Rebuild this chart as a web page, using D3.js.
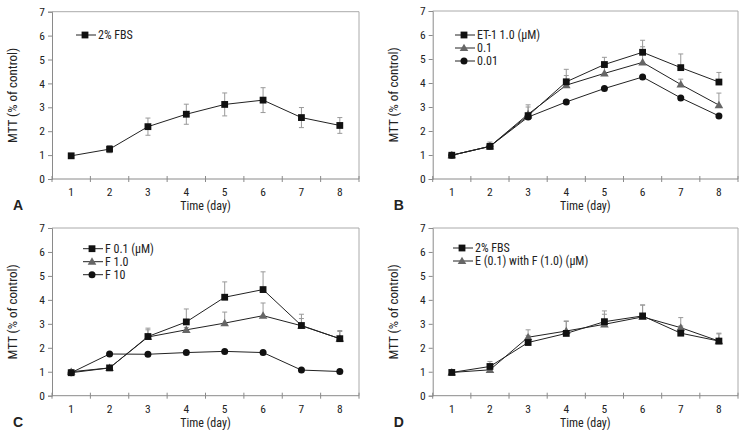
<!DOCTYPE html>
<html><head><meta charset="utf-8">
<script src="https://cdn.jsdelivr.net/npm/d3@7"></script>
<style>
body{margin:0;background:#fff}
text{font-family:"Liberation Sans Narrow","Roboto Condensed","DejaVu Sans Condensed",sans-serif;fill:#222}
</style></head><body>
<svg id="c" width="751" height="437"></svg>
<script>
const days = [1,2,3,4,5,6,7,8];
const yTicks = [0,1,2,3,4,5,6,7];
// Panel A
const fbsA = [0.97,1.25,2.19,2.71,3.12,3.30,2.57,2.24];
const fbsAErr = [0.1,0.15,0.36,0.42,0.48,0.52,0.42,0.33];
// Panel B
const et1_10 = [0.99,1.36,2.64,4.05,4.77,5.28,4.64,4.04];
const et1_10Err = [0.05,0.18,0.45,0.52,0.3,0.5,0.57,0.4];
const et1_01 = [0.99,1.36,2.70,3.91,4.40,4.86,3.94,3.08];
const et1_01Err = [0,0,0.3,0.4,0.25,0.65,0.22,0.5];
const et1_001 = [0.99,1.36,2.58,3.21,3.77,4.25,3.38,2.63];
const et1_001Err = [0,0,0,0,0,0,0,0];
// Panel C
const f01 = [0.96,1.16,2.47,3.08,4.11,4.43,2.93,2.38];
const f01Err = [0.1,0.05,0.35,0.54,0.64,0.74,0.47,0.34];
const f10 = [1.0,1.16,2.45,2.75,3.03,3.34,2.92,2.38];
const f10Err = [0.08,0.05,0.3,0.1,0.46,0.53,0.3,0.3];
const f100 = [0.96,1.74,1.73,1.80,1.85,1.80,1.07,1.01];
const f100Err = [0,0,0,0,0,0,0,0];
// Panel D
const fbsD = [0.97,1.22,2.22,2.60,3.09,3.33,2.61,2.28];
const fbsDErr = [0.05,0.21,0.3,0.5,0.45,0.45,0.3,0.33];
const efD = [0.97,1.08,2.44,2.70,2.98,3.29,2.84,2.28];
const efDErr = [0.03,0.05,0.31,0.42,0.42,0.5,0.42,0.3];

const panels = [
  {letter:"A", x0:52, x1:359, y0:179, y1:11.7, both:true, legend:{x:76,y:35},
   series:[{name:"2% FBS", v:fbsA, e:fbsAErr, m:"square"}]},
  {letter:"B", x0:432.7, x1:738, y0:179, y1:11, both:false, legend:{x:455,y:35},
   series:[{name:"ET-1 1.0 (\u03bcM)", v:et1_10, e:et1_10Err, m:"square"},
           {name:"0.1", v:et1_01, e:et1_01Err, m:"triangle"},
           {name:"0.01", v:et1_001, e:et1_001Err, m:"circle"}]},
  {letter:"C", x0:52, x1:359, y0:395.7, y1:228, both:false, legend:{x:83,y:248.7},
   series:[{name:"F 0.1 (\u03bcM)", v:f01, e:f01Err, m:"square"},
           {name:"F 1.0", v:f10, e:f10Err, m:"triangle"},
           {name:"F 10", v:f100, e:f100Err, m:"circle"}]},
  {letter:"D", x0:432.7, x1:738, y0:395.7, y1:228, both:false, legend:{x:453,y:248},
   series:[{name:"2% FBS", v:fbsD, e:fbsDErr, m:"square"},
           {name:"E (0.1) with F (1.0) (\u03bcM)", v:efD, e:efDErr, m:"triangle"}]}
];

const svg = d3.select("#c");
const axisCol = "#8a8a8a";

function marker(g, type, x, y){
  if(type==="square"){
    g.append("rect").attr("x",x-3.4).attr("y",y-3.4).attr("width",6.8).attr("height",6.8).attr("fill","#111");
  } else if(type==="circle"){
    g.append("circle").attr("cx",x).attr("cy",y).attr("r",3.5).attr("fill","#111");
  } else {
    g.append("path").attr("d",d3.symbol(d3.symbolTriangle,32)()).attr("transform",`translate(${x},${y+0.6})`).attr("fill","#666");
  }
}

panels.forEach(p=>{
  const g = svg.append("g");
  const xb = d3.scaleBand().domain(days).range([p.x0,p.x1]);
  const y = d3.scaleLinear().domain([0,7]).range([p.y0,p.y1]);
  const cx = d => xb(d)+xb.bandwidth()/2;
  g.append("line").attr("x1",p.x0).attr("x2",p.x1).attr("y1",p.y1).attr("y2",p.y1).attr("stroke","#aaa");
  g.append("line").attr("x1",p.x1).attr("x2",p.x1).attr("y1",p.y1).attr("y2",p.y0).attr("stroke","#aaa");
  const ya = g.append("g").attr("transform",`translate(${p.x0},0)`)
    .call(d3.axisLeft(y).tickValues(yTicks).tickSize(4).tickPadding(3).tickFormat(d3.format("d")));
  ya.select(".domain").attr("stroke",axisCol);
  ya.selectAll(".tick line").attr("stroke",axisCol);
  ya.selectAll("text").style("font-size","11.5px").attr("fill","#222");
  g.append("line").attr("x1",p.x0).attr("x2",p.x1).attr("y1",p.y0).attr("y2",p.y0).attr("stroke",axisCol);
  const bounds = days.map(d=>xb(d)).concat([p.x1]);
  g.selectAll(".xt").data(bounds).enter().append("line")
    .attr("x1",d=>d).attr("x2",d=>d).attr("y1",p.y0-3).attr("y2",p.y0+3).attr("stroke",axisCol);
  g.selectAll(".xl").data(days).enter().append("text")
    .attr("x",d=>cx(d)).attr("y",p.y0+17).attr("text-anchor","middle").style("font-size","11.5px").text(d=>d);
  g.append("text").attr("x",(p.x0+p.x1)/2).attr("y",p.y0+31).attr("text-anchor","middle").style("font-size","12px").text("Time (day)");
  g.append("text").attr("x",p.x0-39).attr("y",p.y0+31).style("font-size","14px").style("font-weight","bold")
    .style("font-family","Liberation Sans, Arial, sans-serif").text(p.letter);
  g.append("text").attr("transform",`translate(${p.x0-35},${(p.y0+p.y1)/2}) rotate(-90)`)
    .attr("text-anchor","middle").style("font-size","13px").text("MTT (% of control)");
  p.series.forEach(s=>{
    s.v.forEach((v,i)=>{
      const e = s.e[i]; if(!e) return;
      const x = cx(days[i]);
      const top = y(v+e), bot = p.both ? y(v-e) : y(v);
      g.append("line").attr("x1",x).attr("x2",x).attr("y1",top).attr("y2",bot).attr("stroke","#999").attr("stroke-width",1);
      g.append("line").attr("x1",x-2.5).attr("x2",x+2.5).attr("y1",top).attr("y2",top).attr("stroke","#999");
      if(p.both) g.append("line").attr("x1",x-2.5).attr("x2",x+2.5).attr("y1",bot).attr("y2",bot).attr("stroke","#999");
    });
  });
  const line = d3.line().x((v,i)=>cx(days[i])).y(v=>y(v));
  p.series.slice().reverse().forEach(s=>{
    g.append("path").attr("d",line(s.v)).attr("fill","none").attr("stroke","#222").attr("stroke-width",1);
  });
  p.series.slice().reverse().forEach(s=>{
    s.v.forEach((v,i)=>marker(g,s.m,cx(days[i]),y(v)));
  });
  p.series.forEach((s,i)=>{
    const ly = p.legend.y + i*13;
    g.append("line").attr("x1",p.legend.x).attr("x2",p.legend.x+20).attr("y1",ly).attr("y2",ly).attr("stroke","#222");
    marker(g,s.m,p.legend.x+9,ly);
    g.append("text").attr("x",p.legend.x+22).attr("y",ly+4).style("font-size","12px").text(s.name);
  });
});
</script>
</body></html>
